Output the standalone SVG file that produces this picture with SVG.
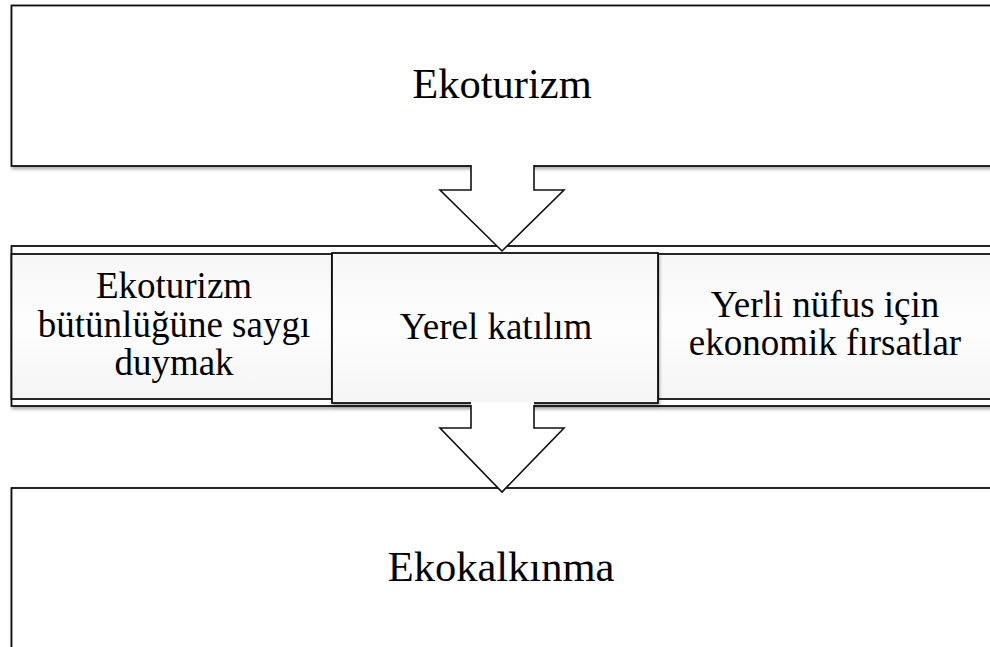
<svg xmlns="http://www.w3.org/2000/svg" width="990" height="647" viewBox="0 0 990 647">
  <defs>
    <filter id="sh" x="-5%" y="-5%" width="110%" height="120%">
      <feDropShadow dx="1" dy="2.5" stdDeviation="1.5" flood-color="#000" flood-opacity="0.3"/>
    </filter>
    <linearGradient id="lg" x1="0" y1="0" x2="0" y2="1">
      <stop offset="0" stop-color="#f7f7f7"/>
      <stop offset="0.5" stop-color="#fdfdfd"/>
      <stop offset="1" stop-color="#f5f5f5"/>
    </linearGradient>
  </defs>
  <style>
    .box { fill: #ffffff; stroke: #111111; stroke-width: 1.8; }
    .inner { fill: url(#lg); stroke: #111111; stroke-width: 1.8; }
    .arrow-fill { fill: #ffffff; stroke: none; }
    .arrow-line { fill: none; stroke: #111111; stroke-width: 1.6; stroke-linejoin: miter; }
    .big { font-family: "Liberation Serif", "Times New Roman", serif; font-size: 42.5px; fill: #000; text-anchor: middle; }
    .mid { font-family: "Liberation Serif", "Times New Roman", serif; font-size: 37px; fill: #000; text-anchor: middle; }
  </style>
  <rect width="990" height="647" fill="#ffffff"/>

  <g id="node-ekoturizm">
    <rect class="box" x="11.5" y="5.5" width="1000" height="160.5" filter="url(#sh)"/>
    <text class="big" x="502" y="98">Ekoturizm</text>
  </g>

  <g id="node-band">
    <rect class="box" x="11.5" y="246" width="1000" height="160" filter="url(#sh)"/>
  </g>

  <g id="node-saygi">
    <rect class="inner" x="11.5" y="254" width="320.5" height="145"/>
    <text class="mid" x="174" y="298">Ekoturizm</text>
    <text class="mid" x="174" y="337">bütünlüğüne saygı</text>
    <text class="mid" x="174" y="375">duymak</text>
  </g>

  <g id="node-ekonomik">
    <rect class="inner" x="658" y="254" width="400" height="145"/>
    <text class="mid" x="825" y="317">Yerli nüfus için</text>
    <text class="mid" x="825" y="355">ekonomik fırsatlar</text>
  </g>

  <g id="node-katilim">
    <rect class="inner" x="332" y="253" width="326" height="150" filter="url(#sh)"/>
    <text class="mid" x="496" y="339">Yerel katılım</text>
  </g>

  <g id="node-ekokalkinma">
    <rect class="box" x="11.5" y="488" width="1000" height="200" filter="url(#sh)"/>
    <text class="big" x="501" y="581">Ekokalkınma</text>
  </g>

  <g id="connectors">
    <g id="arrow-1">
      <path class="arrow-fill" d="M471,163 H534 V190 H564 L502,251 L440,190 H471 Z"/>
      <path class="arrow-line" d="M471,165 V190 H440 L502,251 L564,190 H534 V165"/>
    </g>
    <g id="arrow-2">
      <path class="arrow-fill" d="M471,402 H534 V428 H564 L502,492 L440,428 H471 Z"/>
      <path class="arrow-line" d="M471,405 V428 H440 L502,492 L564,428 H534 V405"/>
    </g>
  </g>
</svg>
